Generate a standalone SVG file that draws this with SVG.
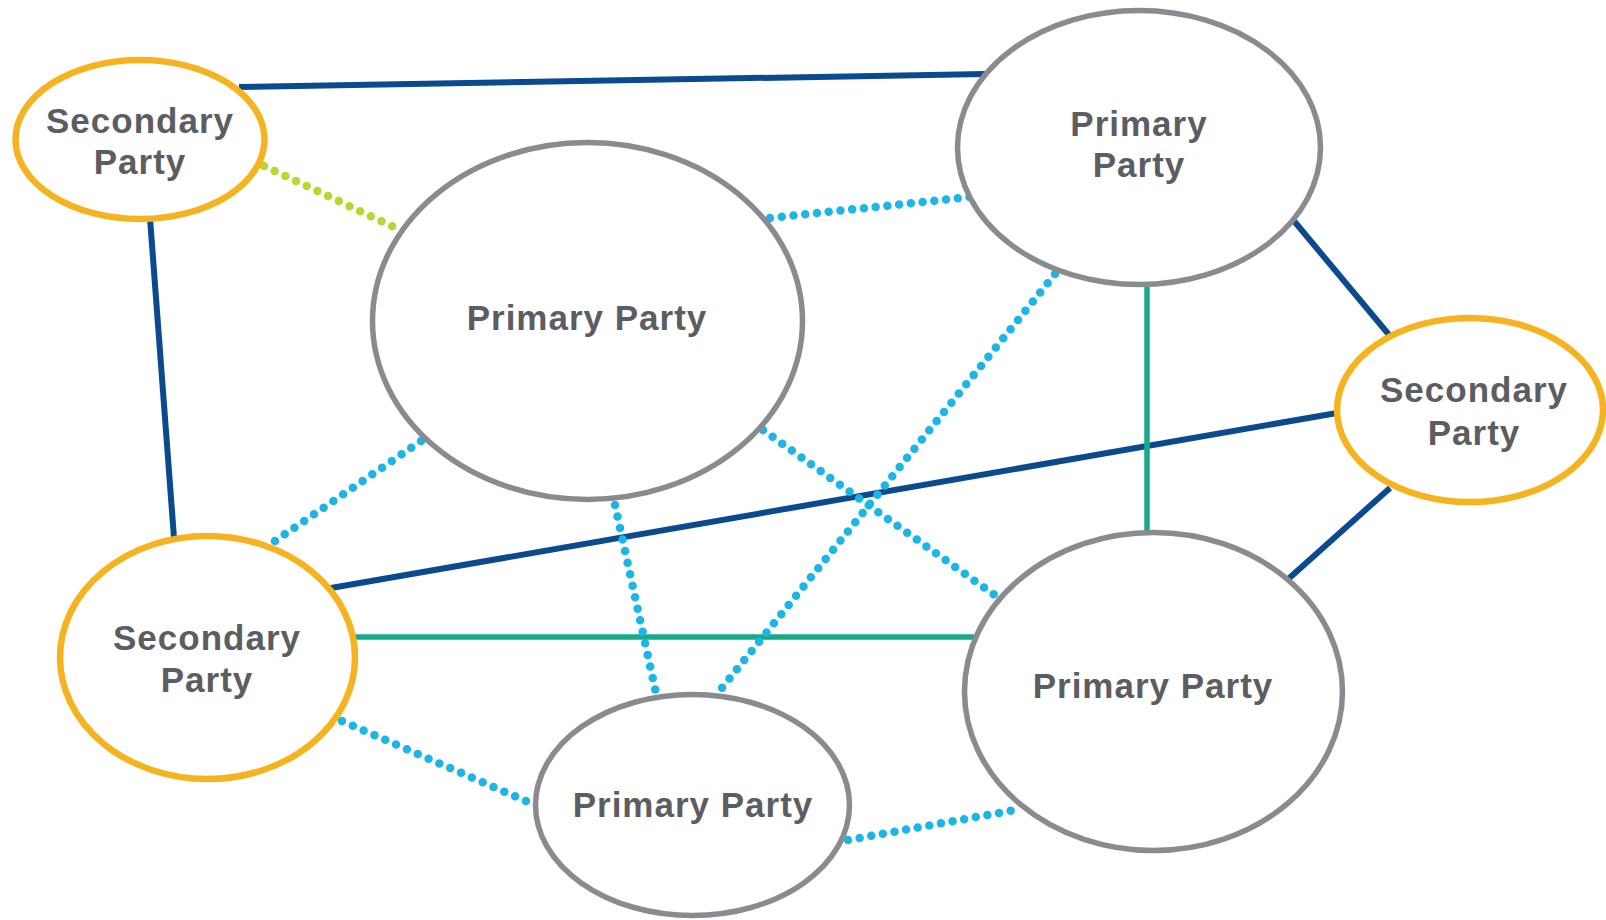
<svg xmlns="http://www.w3.org/2000/svg" width="1606" height="920" viewBox="0 0 1606 920">
<style>
.bg{fill:#ffffff}
.navy{stroke:#0c4a8e;stroke-width:6;fill:none}
.teal{stroke:#16a98c;stroke-width:5.5;fill:none}
.dotb{stroke:#1cb6e6;stroke-width:8.5;stroke-linecap:round;stroke-dasharray:0 11.8;fill:none}
.dotg{stroke:#bcd535;stroke-width:8.5;stroke-linecap:round;stroke-dasharray:0 11.8;fill:none}
.pri{fill:#ffffff;stroke:#8a8b8f;stroke-width:5.5}
.sec{fill:#ffffff;stroke:#f6b320;stroke-width:6.5}
.lbl{font-family:"Liberation Sans",Arial,sans-serif;font-weight:700;font-size:35px;fill:#5c5d62;text-anchor:middle;letter-spacing:1px}
</style>
<rect class="bg" x="0" y="0" width="1606" height="920"/>
<g id="connectors">
<line class="navy" x1="239" y1="87" x2="985" y2="74"/>
<line class="navy" x1="150" y1="218" x2="174" y2="538"/>
<line class="navy" x1="1294" y1="221" x2="1390" y2="336"/>
<line class="navy" x1="1337" y1="413" x2="331" y2="588"/>
<line class="navy" x1="1390" y1="488" x2="1286" y2="581"/>
<line class="teal" x1="1147" y1="282" x2="1147" y2="535"/>
<line class="teal" x1="354" y1="637" x2="975" y2="637"/>
<line class="dotg" x1="264" y1="166" x2="396" y2="228"/>
<line class="dotb" x1="770" y1="218" x2="970" y2="197"/>
<line class="dotb" x1="1055" y1="274" x2="717" y2="694"/>
<line class="dotb" x1="763" y1="430" x2="996" y2="596"/>
<line class="dotb" x1="615" y1="505" x2="656" y2="693"/>
<line class="dotb" x1="421" y1="441" x2="272" y2="543"/>
<line class="dotb" x1="342" y1="721" x2="535" y2="805"/>
<line class="dotb" x1="848" y1="840" x2="1021" y2="809"/>
</g>
<g id="node-secondary-topleft">
<ellipse class="sec" cx="140" cy="139.5" rx="124.5" ry="79.5"/>
<text class="lbl"><tspan x="140" y="133">Secondary</tspan><tspan x="140" y="174">Party</tspan></text>
</g>
<g id="node-primary-center">
<ellipse class="pri" cx="587.5" cy="321" rx="215" ry="178.5"/>
<text class="lbl" x="587" y="330">Primary Party</text>
</g>
<g id="node-primary-topright">
<ellipse class="pri" cx="1139" cy="147.5" rx="181.5" ry="137"/>
<text class="lbl"><tspan x="1139" y="136">Primary</tspan><tspan x="1139" y="177">Party</tspan></text>
</g>
<g id="node-secondary-right">
<ellipse class="sec" cx="1470" cy="410" rx="133" ry="92"/>
<text class="lbl"><tspan x="1474" y="402">Secondary</tspan><tspan x="1474" y="445">Party</tspan></text>
</g>
<g id="node-secondary-left">
<ellipse class="sec" cx="207.5" cy="657.5" rx="147.5" ry="121.5"/>
<text class="lbl"><tspan x="207" y="650">Secondary</tspan><tspan x="207" y="692">Party</tspan></text>
</g>
<g id="node-primary-bottom">
<ellipse class="pri" cx="692.5" cy="805" rx="157" ry="110.5"/>
<text class="lbl" x="693" y="817">Primary Party</text>
</g>
<g id="node-primary-bottomright">
<ellipse class="pri" cx="1153.5" cy="691.5" rx="189" ry="159"/>
<text class="lbl" x="1153" y="698">Primary Party</text>
</g>
</svg>
